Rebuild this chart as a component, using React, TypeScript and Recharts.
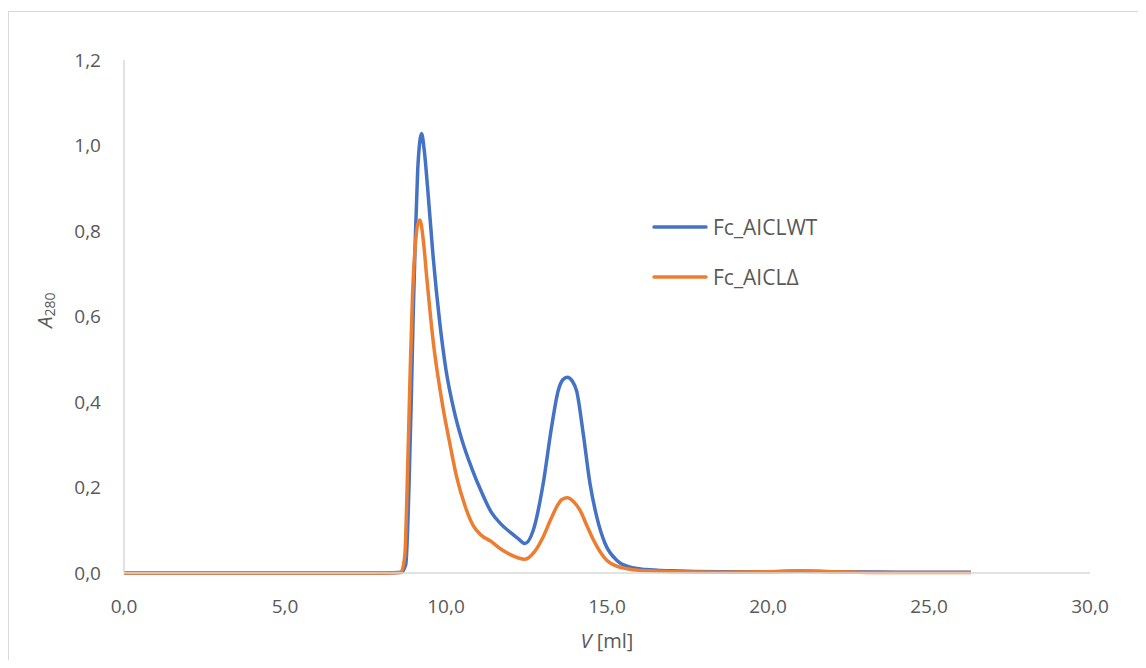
import React from "react"
import {
  LineChart,
  Line,
  XAxis,
  YAxis,
  Legend,
} from "recharts"

// Fc_AICLWT: elution volume (ml) and A280
const wtVolume = [
  0, 5, 8.0, 8.6, 8.75, 8.85, 8.92, 8.98, 9.05, 9.12, 9.18, 9.24, 9.33, 9.43,
  9.6, 9.8, 10.0, 10.25, 10.5, 10.8, 11.1, 11.4, 11.7, 12.0, 12.25, 12.45,
  12.71, 13.02, 13.28, 13.49, 13.63, 13.77, 13.92, 14.06, 14.26, 14.47, 14.68,
  14.94, 15.3, 15.7, 16.2, 17.0, 18.5, 20.0, 21.0, 22.0, 24.0, 26.3,
]
const wtAbs = [
  0, 0, 0, 0.001, 0.02, 0.2, 0.4, 0.6, 0.79, 0.94, 1.005, 1.028, 0.985, 0.9,
  0.74, 0.59, 0.475, 0.38, 0.31, 0.245, 0.19, 0.143, 0.115, 0.095, 0.08,
  0.069, 0.1, 0.21, 0.342, 0.428, 0.452, 0.458, 0.449, 0.425, 0.327, 0.21,
  0.132, 0.069, 0.03, 0.014, 0.008, 0.005, 0.003, 0.003, 0.004, 0.003, 0.002,
  0.002,
]

// Fc_AICLΔ: elution volume (ml) and A280
const deltaVolume = [
  0, 5, 8.0, 8.6, 8.72, 8.8, 8.88, 8.96, 9.05, 9.12, 9.19, 9.3, 9.4, 9.5, 9.61,
  9.75, 9.92, 10.1, 10.33, 10.6, 10.85, 11.1, 11.4, 11.7, 12.0, 12.25, 12.45,
  12.75, 13.02, 13.25, 13.44, 13.6, 13.77, 13.95, 14.16, 14.38, 14.58, 14.8,
  14.99, 15.3, 15.71, 16.3, 17.0, 18.5, 20.0, 21.0, 22.0, 24.0, 26.3,
]
const deltaAbs = [
  0, 0, 0, 0.002, 0.04, 0.22, 0.45, 0.65, 0.77, 0.815, 0.826, 0.775, 0.693,
  0.615, 0.537, 0.46, 0.381, 0.31, 0.225, 0.155, 0.11, 0.088, 0.074, 0.056,
  0.043, 0.035, 0.032, 0.05, 0.085, 0.125, 0.155, 0.172, 0.176, 0.168, 0.147,
  0.11, 0.077, 0.048, 0.03, 0.016, 0.009, 0.005, 0.003, 0.002, 0.003, 0.005,
  0.003, 0.001, 0.001,
]

const xTicks = [0, 5, 10, 15, 20, 25, 30]
const yTicks = [0, 0.2, 0.4, 0.6, 0.8, 1.0, 1.2]

const series = [
  {
    key: "wt",
    name: "Fc_AICLWT",
    color: "#4472C4",
    data: wtVolume.map((v, i) => ({ v, a: wtAbs[i] })),
  },
  {
    key: "delta",
    name: "Fc_AICLΔ",
    color: "#ED7D31",
    data: deltaVolume.map((v, i) => ({ v, a: deltaAbs[i] })),
  },
]

const textColor = "#595959"
const axisColor = "#d9d9d9"
const font = "'Open Sans', sans-serif"
const fmt = (n: number) => n.toFixed(1).replace(".", ",")

const XLabel = (props: any) => {
  const { x, y, width } = props.viewBox
  return (
    <text x={x + width / 2} y={y + 75} textAnchor="middle" fill={textColor} fontSize={20} fontFamily={font}>
      <tspan fontStyle="italic">V</tspan> [ml]
    </text>
  )
}

const YLabel = () => {
  const cx = 39
  const cy = 302
  return (
    <text x={cx} y={cy} transform={`rotate(-90, ${cx}, ${cy})`} textAnchor="middle" dominantBaseline="middle" fill={textColor} fontSize={20} fontFamily={font}>
      <tspan fontStyle="italic">A</tspan>
      <tspan fontSize={14} dy={4}>280</tspan>
    </text>
  )
}

const LegendBox = () => (
  <div style={{ display: "flex", flexDirection: "column", fontFamily: font }}>
    {series.map((s) => (
      <div key={s.key} style={{ height: 50, display: "flex", alignItems: "center" }}>
        <svg width={56} height={10}>
          <line x1={2} y1={5} x2={54} y2={5} stroke={s.color} strokeWidth={3.5} strokeLinecap="round" />
        </svg>
        <span style={{ marginLeft: 5, fontSize: 21, color: textColor }}>{s.name}</span>
      </div>
    ))}
  </div>
)

export default function App() {
  return (
    <div style={{ position: "relative", width: 1138, height: 652, overflow: "hidden" }}>
      <div
        style={{
          position: "absolute",
          left: 0,
          top: 3,
          width: 1300,
          height: 800,
          border: `1px solid ${axisColor}`,
        }}
      />
      <div style={{ position: "absolute", left: 0, top: 0 }}>
        <LineChart
          width={1138}
          height={652}
          margin={{ top: 52, right: 56, left: 0, bottom: 27 }}
          style={{ fontFamily: font }}
        >
          <XAxis
            dataKey="v"
            type="number"
            domain={[0, 30]}
            ticks={xTicks}
            tickFormatter={fmt}
            tickLine={false}
            tickSize={6}
            tickMargin={21}
            axisLine={{ stroke: axisColor, strokeWidth: 1.5 }}
            tick={{ fill: textColor, fontSize: 19 }}
            height={60}
            allowDuplicatedCategory={false}
            label={<XLabel />}
          />
          <YAxis
            type="number"
            domain={[0, 1.2]}
            ticks={yTicks}
            tickFormatter={fmt}
            tickLine={false}
            tickSize={6}
            tickMargin={17}
            axisLine={{ stroke: axisColor, strokeWidth: 1.5 }}
            tick={{ fill: textColor, fontSize: 19 }}
            width={116}
            label={<YLabel />}
          />
          <Legend
            layout="vertical"
            align="center"
            verticalAlign="middle"
            wrapperStyle={{ left: 644, top: 194, width: "auto" }}
            content={<LegendBox />}
          />
          {series.map((s) => (
            <Line
              key={s.key}
              data={s.data}
              type="monotone"
              dataKey="a"
              name={s.name}
              stroke={s.color}
              strokeWidth={3.5}
              dot={false}
              activeDot={false}
              isAnimationActive={false}
            />
          ))}
        </LineChart>
      </div>
    </div>
  )
}
